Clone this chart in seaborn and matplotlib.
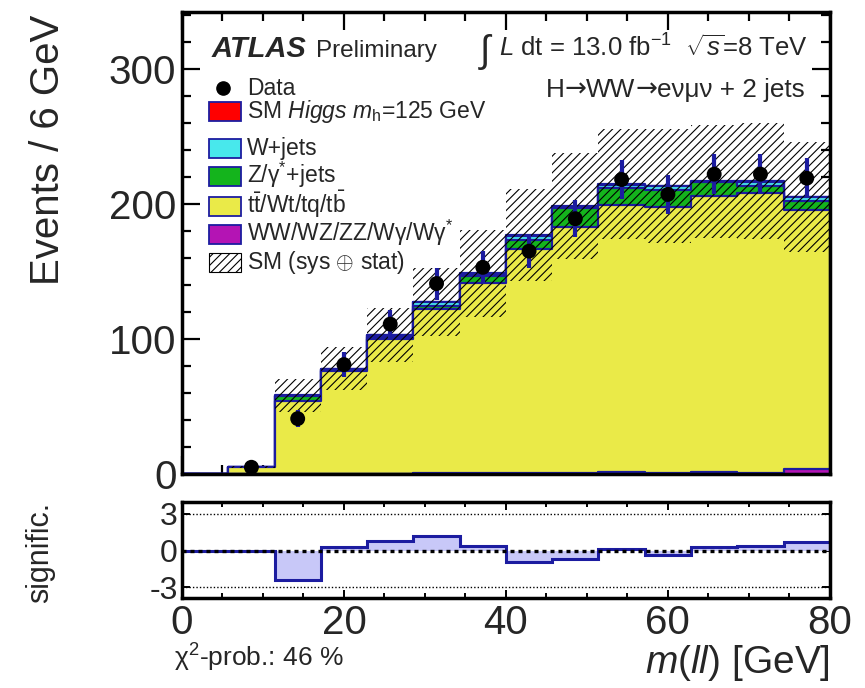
import numpy as np
import pandas as pd
import matplotlib
matplotlib.use("Agg")
import matplotlib.pyplot as plt
import seaborn as sns
from matplotlib.patches import Rectangle
from matplotlib.ticker import MultipleLocator
from matplotlib.transforms import IdentityTransform

# ---- binning: 14 bins over m(ll) = 0..80 GeV ----
bin_edges = np.linspace(0, 80, 15)
bin_centers = 0.5 * (bin_edges[:-1] + bin_edges[1:])

# ---- observed events per bin ----
data_counts = [0, 5, 41, 81, 111, 141, 153, 165, 189, 218, 207, 222, 222, 219]

# ---- expected backgrounds / signal per bin ----
diboson = [0, 0, 0, 0, 0, 0.5, 0.5, 0.5, 0.5, 1.5, 0.5, 1.5, 0.5, 4.0]
top_quark = [0, 5.0, 54.0, 76.0, 100.0, 121.5, 140.7, 165.9, 182.7, 197.5, 197.5, 204.4, 207.4, 191.3]
z_jets = [0, 0.3, 3.5, 1.0, 1.5, 2.5, 5.5, 7.0, 13.8, 12.8, 12.0, 10.0, 5.0, 6.5]
w_jets = [0, 0, 0.5, 0.8, 1.2, 2.5, 1.5, 2.9, 1.0, 2.5, 3.0, 0.5, 3.5, 3.0]
higgs = [0, 0, 0.2, 0.2, 0.3, 0.3, 0.3, 0.4, 0.4, 0.4, 0.3, 0.3, 0.3, 0.3]

# ---- total SM uncertainty (sys + stat) per bin ----
sm_unc = [0, 1.0, 12, 16, 20, 25, 32, 34, 39, 41, 42, 42, 43, 41]

# ---- per-bin significance of data vs. SM ----
significance = [0, 0, -2.4, 0.33, 0.8, 1.23, 0.38, -0.9, -0.68, 0.16, -0.35, 0.27, 0.41, 0.74]

legend_labels = [
    "Data",
    r"SM $\mathit{Higgs}$ $m_{\mathrm{h}}$=125 GeV",
    "W+jets",
    r"Z/$\mathrm{γ}^{*}$+jets",
    r"$\mathrm{t\bar{t}}$/Wt/tq/$\mathrm{t\bar{b}}$",
    r"WW/WZ/ZZ/Wγ/W$\mathrm{γ}^{*}$",
    r"SM (sys $\oplus$ stat)",
]

NAVY = "#1c1ca0"
C_HIGGS = "#ff0000"
C_WJETS = "#48e8ec"
C_ZJETS = "#14b41c"
C_TOP = "#eaea48"
C_VV = "#b414b4"
C_SIG = "#c8c8f8"
HATCH = "////"

sns.set_theme(style="ticks")
plt.rcParams["font.family"] = ["Liberation Sans", "DejaVu Sans"]
plt.rcParams["mathtext.fontset"] = "custom"
plt.rcParams["mathtext.rm"] = "Liberation Sans"
plt.rcParams["mathtext.it"] = "Liberation Sans:italic"
plt.rcParams["mathtext.bf"] = "Liberation Sans:bold"
plt.rcParams["mathtext.sf"] = "Liberation Sans"
plt.rcParams["axes.unicode_minus"] = False
plt.rcParams["hatch.linewidth"] = 0.8

W_PX, H_PX = 865, 688
fig = plt.figure(figsize=(W_PX / 100, H_PX / 100), dpi=100)
ax = fig.add_axes([0.2104, 0.311, 0.749, 0.6715])
ax2 = fig.add_axes([0.2104, 0.1304, 0.749, 0.1404])


# pixel -> axes-fraction helpers for the main panel (left 182, right 830, top 12, bottom 474)
def fx(px):
    return (px - 182) / 648.0


def fy(py):
    return (474 - py) / 462.0


def text_runs(runs, right_px, base_px, fontsize):
    """Lay out (text, family) runs on one baseline, right-aligned at right_px."""
    renderer = fig.canvas.get_renderer()
    pieces, x = [], 0.0
    for s, fam in runs:
        t = fig.text(x, H_PX - base_px, s, fontsize=fontsize, family=fam,
                     ha="left", va="baseline", transform=IdentityTransform())
        w = t.get_window_extent(renderer).width
        pieces.append((t, x))
        x += w
    shift = right_px - x
    for t, x0 in pieces:
        t.set_position((x0 + shift, H_PX - base_px))


# ---- stacked expectation, drawn as cumulative layers from the top down ----
layers = [diboson, top_quark, z_jets, w_jets, higgs]
colors = [C_VV, C_TOP, C_ZJETS, C_WJETS, C_HIGGS]
cumulative = np.cumsum(np.array(layers, dtype=float), axis=0)
for level in range(len(layers) - 1, -1, -1):
    frame = pd.DataFrame({"mll": bin_centers, "events": cumulative[level]})
    sns.histplot(
        data=frame, x="mll", weights="events", bins=list(bin_edges),
        element="step", fill=True, color=colors[level], alpha=1,
        edgecolor=NAVY, linewidth=1.6, ax=ax,
    )

total = cumulative[-1]
unc = np.array(sm_unc, dtype=float)
ax.stairs(total + unc, bin_edges, baseline=np.clip(total - unc, 0, None), fill=True,
          facecolor="none", edgecolor="black", hatch=HATCH, linewidth=0, zorder=3)

# ---- data points with Poisson errors ----
obs = np.array(data_counts, dtype=float)
has_data = obs > 0
ax.errorbar(bin_centers[has_data], obs[has_data], yerr=np.sqrt(obs[has_data]),
            fmt="none", ecolor=NAVY, elinewidth=3, capsize=0, zorder=4)
sns.scatterplot(x=bin_centers[has_data], y=obs[has_data], color="black", s=115,
                edgecolor="none", ax=ax, zorder=5)

ax.set_xlim(0, 80)
ax.set_ylim(0, 342)
ax.xaxis.set_major_locator(MultipleLocator(20))
ax.xaxis.set_minor_locator(MultipleLocator(5))
ax.yaxis.set_major_locator(MultipleLocator(100))
ax.yaxis.set_minor_locator(MultipleLocator(20))
ax.tick_params(which="both", direction="in", top=True, right=True, width=1.6,
               labelbottom=False, color="black")
ax.tick_params(which="major", length=13)
ax.tick_params(which="minor", length=6.5)
ax.tick_params(axis="y", labelsize=29, pad=4)
ax.set_xlabel("")
ax.set_ylabel("Events / 6 GeV", fontsize=29, loc="top")
ax.yaxis.set_label_coords(-0.178, 0.995)
for sp in ax.spines.values():
    sp.set_linewidth(2.5)
    sp.set_color("black")
    sp.set_zorder(10)

# ---- legend: marker / boxes on the left, labels to the right ----
leg_baselines = [95, 118, 155, 183, 213, 241, 269]
leg_faces = [None, C_HIGGS, C_WJETS, C_ZJETS, C_TOP, C_VV, "white"]
for i, (label, base) in enumerate(zip(legend_labels, leg_baselines)):
    if i == 0:
        ax.plot([fx(223)], [fy(88)], marker="o", ms=9.5, color="black",
                transform=ax.transAxes, clip_on=False, zorder=6)
    else:
        top_px, bot_px = base - 16, base + 3
        is_band = i == len(legend_labels) - 1
        ax.add_patch(Rectangle(
            (fx(209), fy(bot_px)), fx(241) - fx(209), fy(top_px) - fy(bot_px),
            transform=ax.transAxes, facecolor=leg_faces[i],
            edgecolor="black" if is_band else NAVY,
            hatch=HATCH if is_band else None,
            linewidth=0.8 if is_band else 1.3, zorder=6, clip_on=False))
    ax.text(fx(247), fy(base), label, transform=ax.transAxes, fontsize=16.5,
            va="baseline", ha="left", zorder=6)

# ---- header texts ----
ax.text(fx(212), fy(57), "ATLAS", transform=ax.transAxes, fontsize=21,
        fontweight="bold", fontstyle="italic", va="baseline", ha="left")
ax.text(fx(316), fy(57), "Preliminary", transform=ax.transAxes, fontsize=17.5,
        va="baseline", ha="left")
lumi = ax.text(fx(808), fy(57), r"$L$ dt = 13.0 fb$^{-1}$  $\sqrt{s}$=8 TeV",
               transform=ax.transAxes, fontsize=18.5, va="baseline", ha="right")
fig.canvas.draw()
lumi_left_px = lumi.get_window_extent().x0
integral_x = ax.transAxes.inverted().transform((lumi_left_px - 5, 0))[0]
ax.text(integral_x, fy(62), r"$\int$", transform=ax.transAxes, fontsize=27,
        va="baseline", ha="right")

text_runs([("H", "Liberation Sans"), ("→", "DejaVu Sans"), ("WW", "Liberation Sans"),
           ("→", "DejaVu Sans"), ("eνμν + 2 jets", "Liberation Sans")],
          right_px=805, base_px=97, fontsize=18.8)

# ---- significance panel ----
sig = np.array(significance, dtype=float)
ax2.stairs(sig, bin_edges, baseline=0, fill=True, facecolor=C_SIG, edgecolor="none", zorder=1)
ax2.stairs(sig, bin_edges, baseline=0, fill=False, color=NAVY, linewidth=2.2, zorder=2)
ax2.axhline(0, color="black", linestyle=(0, (1.2, 1.2)), linewidth=2.4, zorder=3)
for lvl in (3, -3):
    ax2.axhline(lvl, color="black", linestyle=(0, (1, 1.5)), linewidth=1.0, zorder=3)

ax2.set_xlim(0, 80)
ax2.set_ylim(-3.9, 4.0)
ax2.set_yticks([-3, 0, 3])
ax2.set_yticklabels(["-3", "0", "3"])
ax2.xaxis.set_major_locator(MultipleLocator(20))
ax2.xaxis.set_minor_locator(MultipleLocator(5))
ax2.tick_params(which="both", direction="in", top=True, right=True, width=1.4, color="black")
ax2.tick_params(which="major", length=6)
ax2.tick_params(which="minor", length=3.5)
ax2.tick_params(axis="x", labelsize=29, pad=4)
ax2.tick_params(axis="y", labelsize=23, pad=3)
ax2.set_ylabel("signific.", fontsize=22)
ax2.yaxis.set_label_coords(-0.196, 0.47)
ax2.set_xlabel(r"$m$($ll$) [GeV]", fontsize=28, loc="right")
ax2.xaxis.set_label_coords(1.0, -0.46)
for sp in ax2.spines.values():
    sp.set_linewidth(2.5)
    sp.set_color("black")
    sp.set_zorder(10)

fig.text(174 / W_PX, 1 - 667 / H_PX, "χ$^{2}$-prob.: 46 %", fontsize=19,
         ha="left", va="baseline")

fig.savefig("out.png", dpi=100)
